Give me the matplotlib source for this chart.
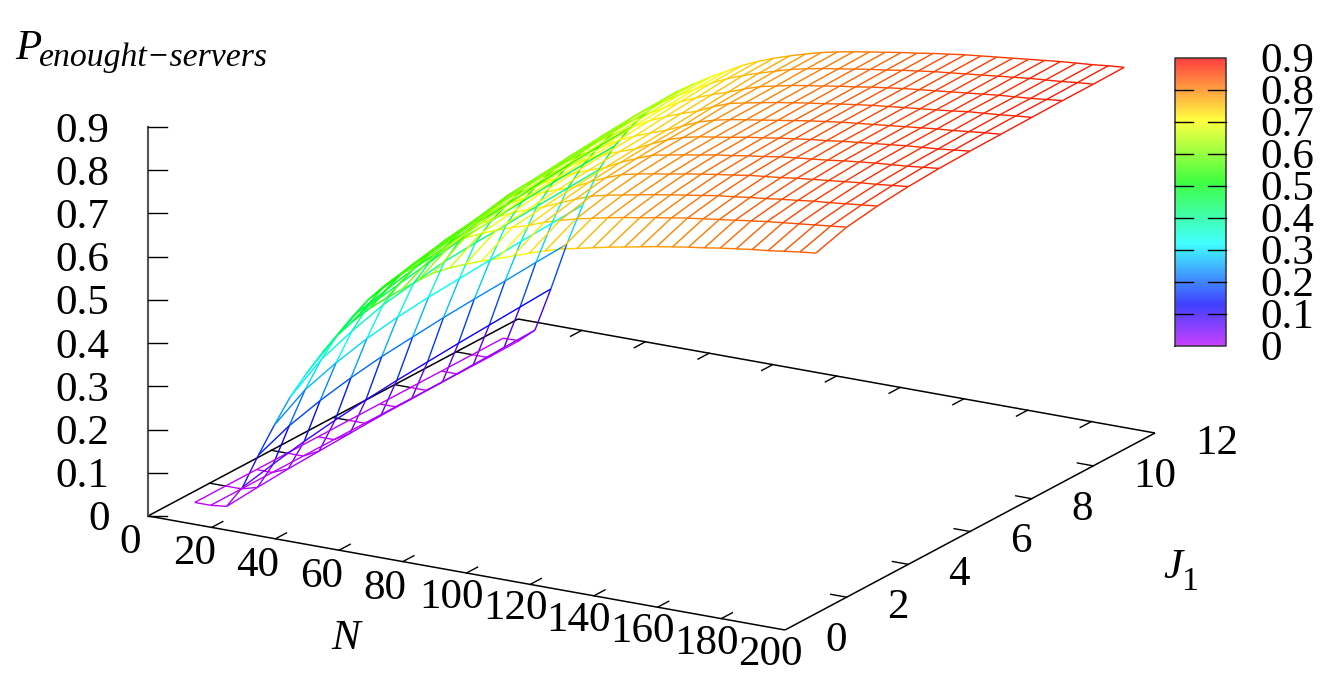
import numpy as np
import matplotlib
matplotlib.use("Agg")
import matplotlib.pyplot as plt
from matplotlib.collections import LineCollection
from matplotlib.colors import LinearSegmentedColormap, Normalize

N_values = [5, 10, 15, 20, 25, 30, 35, 40, 45, 50, 55, 60, 65, 70, 75, 80, 85, 90, 95, 100,
            105, 110, 115, 120, 125, 130, 135, 140, 145, 150, 155, 160, 165, 170, 175, 180, 185, 190, 195, 200]
J_values = [1, 2, 3, 4, 5, 6, 7, 8, 9, 10, 11]

p_j1 = [0, 0, .004, .055, .136, .212, .284, .344, .399, .448, .487, .522, .551, .578, .605, .63, .648, .663, .677, .689,
        .702, .715, .727, .738, .746, .754, .762, .769, .776, .783, .789, .795, .80, .806, .811, .816, .82, .825, .83, .834]
p_j2 = [0, 0, .010, .071, .166, .256, .332, .394, .446, .492, .53, .562, .59, .617, .645, .672, .689, .704, .717, .728,
        .742, .753, .763, .771, .779, .786, .792, .799, .805, .811, .816, .821, .826, .831, .836, .84, .844, .848, .852, .856]
p_j3 = [0, 0, .015, .085, .186, .28, .36, .423, .464, .509, .546, .578, .606, .631, .66, .682, .699, .713, .726, .742,
        .757, .771, .78, .787, .794, .801, .807, .813, .819, .825, .829, .834, .838, .843, .847, .852, .855, .859, .863, .867]
p_j4 = [0, 0, .018, .096, .201, .298, .382, .437, .481, .524, .561, .592, .619, .648, .67, .691, .708, .722, .734, .753,
        .769, .783, .791, .798, .804, .811, .817, .823, .828, .834, .838, .842, .847, .851, .855, .859, .863, .866, .87, .874]
p_j5 = [0, 0, .021, .105, .212, .31, .395, .45, .493, .536, .572, .603, .633, .656, .677, .698, .714, .729, .741, .76,
        .776, .79, .797, .804, .81, .817, .822, .828, .833, .839, .843, .847, .851, .856, .86, .864, .867, .87, .874, .878]
p_j6 = [0, 0, .024, .112, .219, .318, .407, .464, .508, .551, .587, .616, .64, .662, .683, .704, .72, .734, .747, .765,
        .781, .793, .801, .807, .813, .82, .825, .831, .836, .841, .845, .85, .854, .858, .862, .866, .869, .872, .876, .88]
p_j7 = [0, 0, .025, .117, .226, .323, .412, .47, .514, .557, .593, .621, .645, .668, .688, .709, .725, .739, .752, .768,
        .784, .795, .803, .809, .815, .821, .827, .833, .838, .843, .847, .851, .855, .859, .863, .867, .87, .874, .878, .881]
p_j8 = [0, 0, .026, .122, .231, .328, .416, .476, .523, .565, .601, .629, .653, .675, .696, .716, .732, .746, .758, .775,
        .789, .797, .804, .811, .817, .823, .828, .834, .839, .844, .848, .852, .856, .86, .864, .869, .872, .875, .879, .882]
p_j9 = [0, 0, .028, .126, .235, .333, .421, .482, .53, .572, .608, .636, .659, .681, .702, .722, .738, .752, .764, .778,
        .79, .798, .806, .812, .818, .824, .829, .835, .84, .845, .849, .853, .857, .861, .865, .869, .872, .875, .879, .883]
p_j10 = [0, 0, .03, .13, .24, .337, .425, .487, .536, .579, .614, .642, .665, .687, .707, .727, .744, .758, .77, .781,
         .792, .80, .807, .813, .819, .825, .83, .836, .841, .846, .85, .854, .858, .862, .866, .87, .873, .876, .88, .883]
p_j11 = [0, .001, .032, .134, .244, .341, .429, .491, .54, .582, .617, .645, .668, .69, .71, .73, .746, .76, .772, .783,
         .793, .801, .808, .814, .82, .826, .831, .837, .842, .847, .851, .855, .859, .863, .867, .871, .874, .877, .881, .884]

N_ticks = [0, 20, 40, 60, 80, 100, 120, 140, 160, 180, 200]
J_ticks = [0, 2, 4, 6, 8, 10, 12]
P_ticks = [0, 0.1, 0.2, 0.3, 0.4, 0.5, 0.6, 0.7, 0.8, 0.9]
P_tick_labels = ["0", "0.1", "0.2", "0.3", "0.4", "0.5", "0.6", "0.7", "0.8", "0.9"]

palette_levels = [0, .129, .32, .514, .707, .9]
line_palette = ["#c000ff", "#0000ff", "#00ffff", "#00ff00", "#ffff00", "#ff0000"]
bar_palette = ["#c840ff", "#4040ff", "#40ffff", "#40ff40", "#ffff40", "#ff4040"]

SERIF = "Liberation Serif"
FS = 31
FS_SUB = 24.3

norm = Normalize(0, 0.9)
pos = [v / 0.9 for v in palette_levels]
line_cmap = LinearSegmentedColormap.from_list("l", list(zip(pos, line_palette)), N=512)
bar_cmap = LinearSegmentedColormap.from_list("b", list(zip(pos, bar_palette)), N=512)

fig = plt.figure(figsize=(13.40, 6.86), dpi=100)
ax = fig.add_axes([0, 0, 1, 1])
ax.set_xlim(0, 1340)
ax.set_ylim(686, 0)
ax.axis("off")

ORIGIN = np.array([148.0, 516.0])
N_VEC = np.array([637.0, 114.0]) / 200
J_VEC = np.array([370.0, -197.0]) / 12
P_VEC = np.array([0.0, -389.0]) / 0.9


def project(n, j, p=0.0):
    n, j, p = np.asarray(n, float), np.asarray(j, float), np.asarray(p, float)
    return (ORIGIN[0] + n * N_VEC[0] + j * J_VEC[0] + p * P_VEC[0],
            ORIGIN[1] + n * N_VEC[1] + j * J_VEC[1] + p * P_VEC[1])


# base box
for (n0, j0), (n1, j1) in [((0, 0), (200, 0)), ((200, 0), (200, 12)), ((200, 12), (0, 12)), ((0, 12), (0, 0))]:
    x, y = project([n0, n1], [j0, j1])
    ax.plot(x, y, color="black", lw=1.1, solid_capstyle="butt", zorder=1)

# vertical axis
x, y = project([0, 0], [0, 0], [0, 0.9])
ax.plot(x, y, color="#555555", lw=1.5, solid_capstyle="projecting", zorder=1)

# ticks
for n in N_ticks[1:-1]:
    for j0, j1 in [(0, 0.36), (12, 11.64)]:
        x, y = project([n, n], [j0, j1])
        ax.plot(x, y, color="black", lw=1.0, zorder=1)
for j in J_ticks[1:-1]:
    for n0, n1 in [(0, 5), (200, 195)]:
        x, y = project([n0, n1], [j, j])
        ax.plot(x, y, color="black", lw=1.0, zorder=1)
for p in P_ticks:
    x, y = project(0, 0, p)
    ax.plot([x, x + 19], [y, y], color="black", lw=1.0, zorder=1)

# surface
P = np.array([p_j1, p_j2, p_j3, p_j4, p_j5, p_j6, p_j7, p_j8, p_j9, p_j10, p_j11])
NN, JJ = np.meshgrid(N_values, J_values)
X, Y = project(NN, JJ, P)
segs, vals = [], []
for r in range(P.shape[0]):
    for c in range(P.shape[1] - 1):
        segs.append([(X[r, c], Y[r, c]), (X[r, c + 1], Y[r, c + 1])])
        vals.append((P[r, c] + P[r, c + 1]) / 2)
for c in range(P.shape[1]):
    for r in range(P.shape[0] - 1):
        segs.append([(X[r, c], Y[r, c]), (X[r + 1, c], Y[r + 1, c])])
        vals.append((P[r, c] + P[r + 1, c]) / 2)
ax.add_collection(LineCollection(segs, colors=line_cmap(norm(vals)), linewidths=1.0, zorder=2))

# tick labels
for n in N_ticks:
    x, y = project(n, 0)
    dx = -17.5 if n < 100 else -15
    dy = 37 if n < 100 else 35
    ax.text(x + dx, y + dy, str(n), family=SERIF, fontsize=FS, ha="center", va="baseline")
for j in J_ticks:
    x, y = project(200, j)
    ax.text(x + 40, y + 21, str(j), family=SERIF, fontsize=FS, ha="left", va="baseline")
for p, lab in zip(P_ticks, P_tick_labels):
    x, y = project(0, 0, p)
    ax.text(109.5, y + 14.5, lab, family=SERIF, fontsize=FS, ha="right", va="baseline")

# axis titles
ax.text(346, 649, "N", family=SERIF, style="italic", fontsize=FS, ha="center", va="baseline")
ax.text(1163, 578, "J", family=SERIF, style="italic", fontsize=FS, ha="left", va="baseline")
ax.text(1182, 590, "1", family=SERIF, fontsize=FS_SUB, ha="left", va="baseline")
ax.text(15, 59, "P", family=SERIF, style="italic", fontsize=FS, ha="left", va="baseline")
ax.text(39, 66, "enought\u2212servers", family=SERIF, style="italic", fontsize=FS_SUB, ha="left", va="baseline")

# colour bar
BX0, BX1, BY0, BY1 = 1175, 1226, 346, 58
grad = np.linspace(0.9, 0, 288).reshape(-1, 1)
ax.imshow(grad, cmap=bar_cmap, norm=norm, extent=(BX0, BX1, BY0, BY1), aspect="auto", zorder=1)
ax.set_xlim(0, 1340)
ax.set_ylim(686, 0)
ax.plot([BX0, BX1, BX1, BX0, BX0], [BY0, BY0, BY1, BY1, BY0], color="#333333", lw=1.1, zorder=3)
for p, lab in zip(P_ticks, P_tick_labels):
    yy = BY0 + (BY1 - BY0) * p / 0.9
    if 0 < p < 0.9:
        ax.plot([BX0, BX0 + 18], [yy, yy], color="black", lw=1.0, zorder=3)
        ax.plot([BX1 - 18, BX1], [yy, yy], color="black", lw=1.0, zorder=3)
    ax.text(1260.5, yy + 14, lab, family=SERIF, fontsize=FS, ha="left", va="baseline")

fig.savefig("out.png", dpi=100, facecolor="white")
